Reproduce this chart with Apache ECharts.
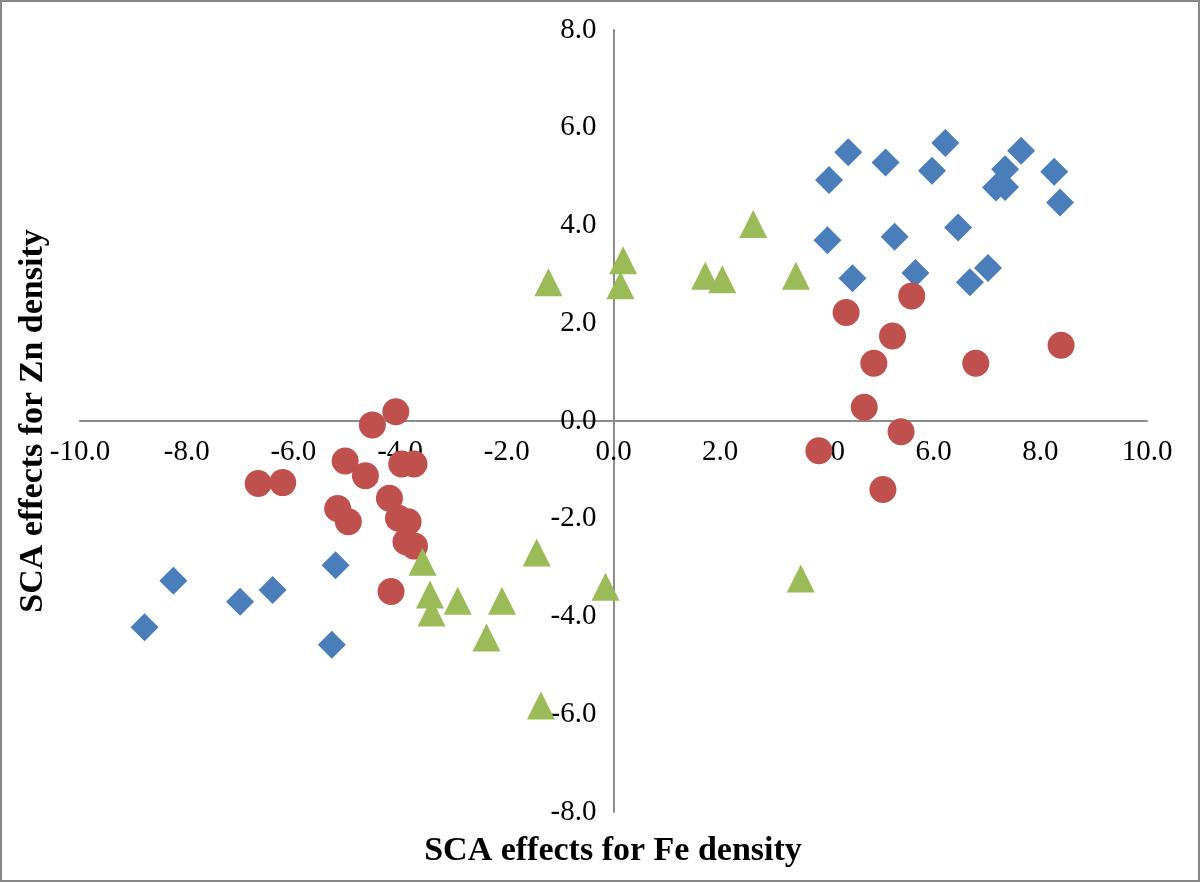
<!DOCTYPE html>
<html>
<head>
<meta charset="utf-8">
<script src="https://cdn.jsdelivr.net/npm/echarts@6/dist/echarts.min.js"></script>
<style>
html,body{margin:0;padding:0;background:#fff;}
#chart{width:1200px;height:882px;}
</style>
</head>
<body>
<div id="chart"></div>
<script>
// Tick labels
const xTicks = [-10, -8, -6, -4, -2, 0, 2, 4, 6, 8, 10];
const yTicks = [-8, -6, -4, -2, 0, 2, 4, 6, 8];
const xTitle = 'SCA effects for Fe density';
const yTitle = 'SCA effects for Zn density';

// Series 1: blue diamonds [Fe, Zn]
const blueFe = [-8.25, -8.79, -7.00, -6.39, -5.21, -5.28,
  4.40, 4.04, 5.10, 6.22, 5.97, 7.64, 7.34, 7.17, 7.34, 8.26, 8.37,
  4.01, 5.27, 6.46, 4.48, 5.66, 6.68, 7.02];
const blueZn = [-3.27, -4.22, -3.70, -3.46, -2.95, -4.58,
  5.50, 4.93, 5.29, 5.69, 5.12, 5.53, 5.15, 4.78, 4.79, 5.10, 4.47,
  3.70, 3.77, 3.96, 2.92, 3.03, 2.84, 3.13];

// Series 2: red circles
const redFe = [-4.08, -4.52, -5.03, -4.65, -3.97, -3.74, -6.66, -6.20, -4.20, -5.17,
  -4.97, -4.03, -3.85, -3.89, -3.73, -4.17,
  5.59, 4.36, 5.23, 4.88, 6.79, 8.39, 4.70, 5.39, 3.85, 5.05];
const redZn = [0.19, -0.08, -0.82, -1.12, -0.88, -0.88, -1.28, -1.26, -1.58, -1.79,
  -2.06, -1.99, -2.06, -2.47, -2.56, -3.49,
  2.56, 2.22, 1.74, 1.18, 1.18, 1.55, 0.28, -0.22, -0.61, -1.40];

// Series 3: green triangles
const greenFe = [-1.44, -3.58, -3.44, -3.41, -2.92, -2.09, -2.38, -0.15, -1.36, 3.51,
  -1.22, 0.18, 0.13, 1.72, 2.04, 2.62, 3.42];
const greenZn = [-2.69, -2.88, -3.55, -3.92, -3.68, -3.68, -4.43, -3.39, -5.82, -3.22,
  2.84, 3.29, 2.78, 2.97, 2.90, 4.03, 2.97];

function pairs(xs, ys) { return xs.map((v, i) => [v, ys[i]]); }

const W = 1200, H = 882;
const G = {left: 80, right: 53, top: 30, bottom: 70};
const xMin = xTicks[0], xMax = xTicks[xTicks.length - 1];
const yMin = yTicks[0], yMax = yTicks[yTicks.length - 1];
// Offsets that move each axis onto the other's zero value
const gridW = W - G.left - G.right, gridH = H - G.top - G.bottom;
const xAxisOffset = -gridH * (0 - yMin) / (yMax - yMin);
const yAxisOffset = -gridW * (0 - xMin) / (xMax - xMin);

const chart = echarts.init(document.getElementById('chart'), null, {renderer: 'canvas'});
const serif = '"Liberation Serif", "Times New Roman", serif';
const axisColor = '#8c8c8c';

const option = {
  backgroundColor: '#ffffff',
  animation: false,
  grid: {left: G.left, right: G.right, top: G.top, bottom: G.bottom, containLabel: false},
  xAxis: {
    type: 'value', min: xMin, max: xMax, interval: 2,
    position: 'bottom', offset: xAxisOffset,
    axisLine: {show: true, onZero: false, lineStyle: {color: axisColor, width: 2}},
    axisTick: {show: false},
    splitLine: {show: false},
    axisLabel: {margin: 17, color: '#000', fontFamily: serif, fontSize: 29,
      formatter: v => v.toFixed(1)}
  },
  yAxis: {
    type: 'value', min: yMin, max: yMax, interval: 2,
    position: 'left', offset: yAxisOffset,
    axisLine: {show: true, onZero: false, lineStyle: {color: axisColor, width: 2}},
    axisTick: {show: false},
    splitLine: {show: false},
    axisLabel: {margin: 17, color: '#000', fontFamily: serif, fontSize: 29,
      formatter: v => v.toFixed(1)}
  },
  graphic: [
    {type: 'rect', shape: {x: 1, y: 1, width: 1198, height: 880},
      style: {fill: 'none', stroke: '#878787', lineWidth: 2}, silent: true},
    {type: 'text', x: 613, y: 851,
      style: {text: xTitle, font: 'bold 34px ' + serif, fill: '#000',
        textAlign: 'center', textVerticalAlign: 'middle'}},
    {type: 'text', x: 33, y: 421, rotation: Math.PI / 2,
      style: {text: yTitle, font: 'bold 34px ' + serif, fill: '#000',
        textAlign: 'center', textVerticalAlign: 'middle'}}
  ],
  series: [
    {type: 'scatter', name: 'blue', data: pairs(blueFe, blueZn), symbol: 'diamond',
      symbolSize: 28, itemStyle: {color: '#4A7EBB', opacity: 1}},
    {type: 'scatter', name: 'red', data: pairs(redFe, redZn), symbol: 'circle',
      symbolSize: 27, itemStyle: {color: '#C0504D', opacity: 1}},
    {type: 'scatter', name: 'green', data: pairs(greenFe, greenZn), symbol: 'triangle',
      symbolSize: 28, itemStyle: {color: '#9BBB59', opacity: 1}}
  ]
};
chart.setOption(option);
</script>
</body>
</html>
